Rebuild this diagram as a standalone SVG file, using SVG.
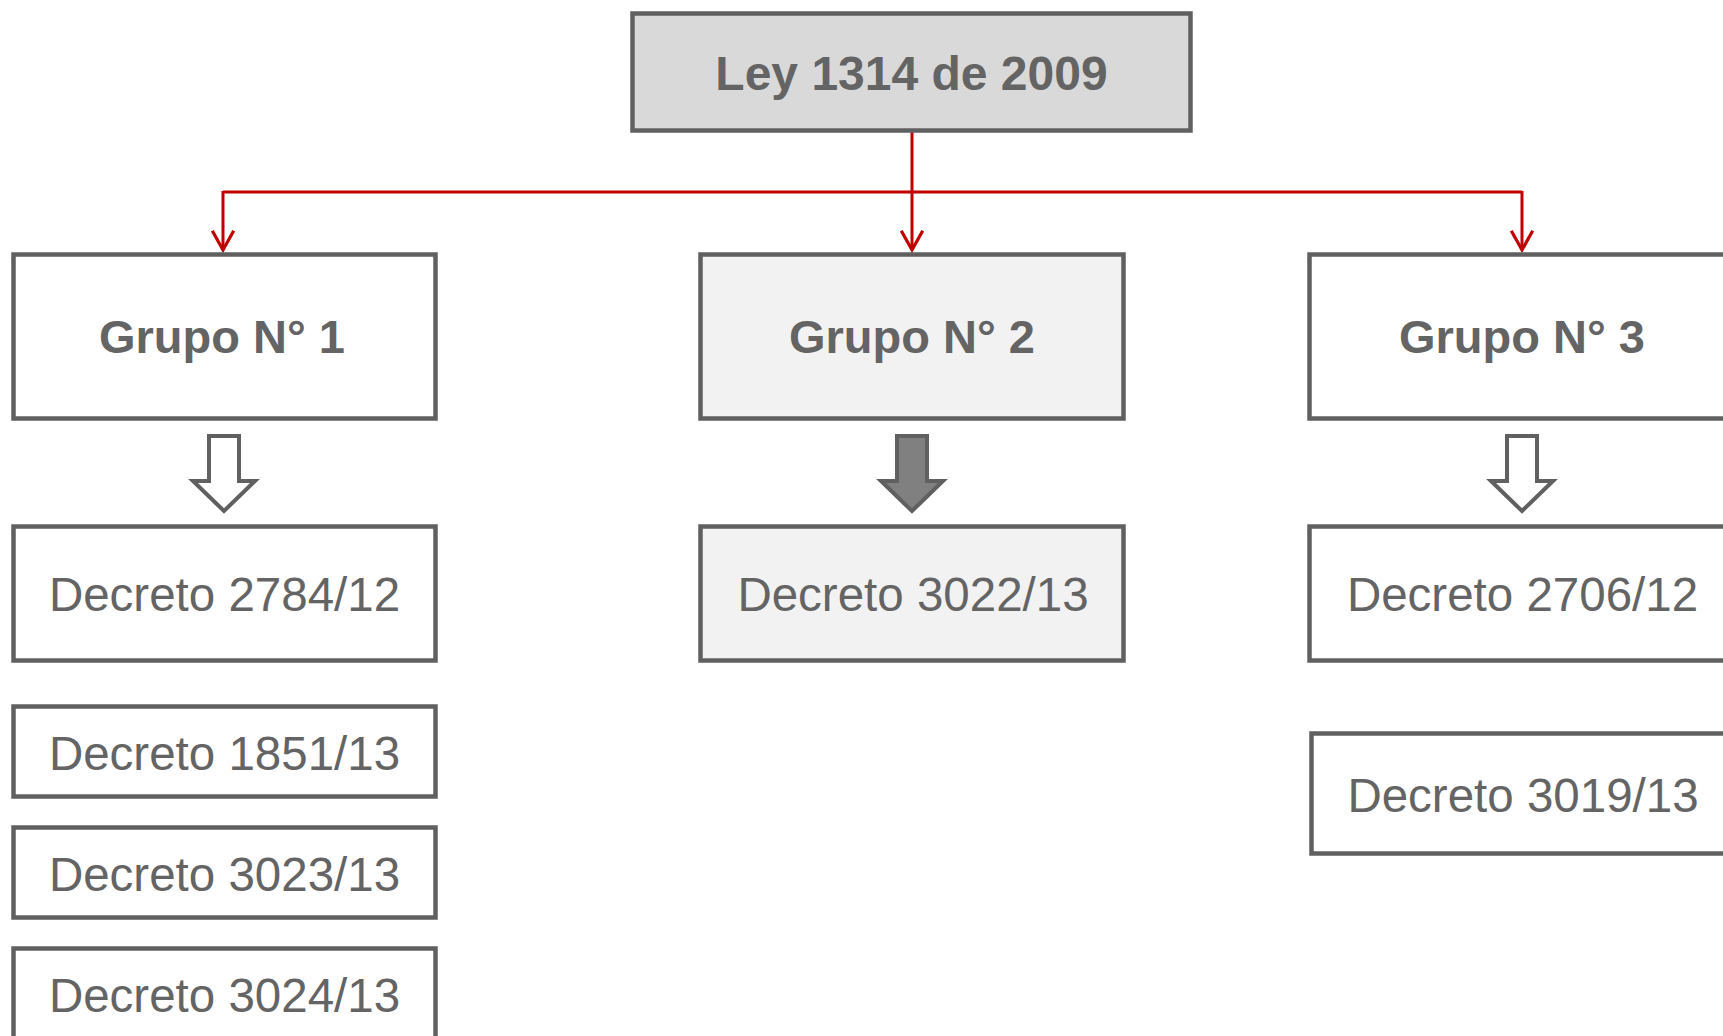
<svg xmlns="http://www.w3.org/2000/svg" width="1723" height="1036" viewBox="0 0 1723 1036">
  <style>
    .box { stroke: #606060; stroke-width: 4.5; fill: #ffffff; }
    .gray { fill: #d9d9d9; }
    .light { fill: #f2f2f2; }
    .t { font-family: "Liberation Sans", Arial, sans-serif; fill: #646464; text-anchor: middle; }
    .b { font-weight: bold; }
    .conn { stroke: #c00000; stroke-width: 3; fill: none; }
    .blk { stroke: #606060; stroke-width: 4; stroke-linejoin: miter; }
  </style>
  <defs>
    <marker id="vhead" markerUnits="userSpaceOnUse" orient="auto" refX="0" refY="0" markerWidth="30" markerHeight="30" viewBox="-22 -14 26 28" overflow="visible">
      <path d="M-18,-10 L0,0 L-18,10" fill="none" stroke="#c00000" stroke-width="3"/>
    </marker>
  </defs>
  <rect width="1723" height="1036" fill="#ffffff"/>

  <g id="connectors">
    <line class="conn" x1="912" y1="132" x2="912" y2="250" marker-end="url(#vhead)"/>
    <line class="conn" x1="223" y1="192" x2="1522" y2="192"/>
    <polyline class="conn" points="223,191 223,250" marker-end="url(#vhead)"/>
    <polyline class="conn" points="1522,191 1522,250" marker-end="url(#vhead)"/>
    <path id="arrow1" class="blk" fill="#ffffff" d="M209,436 H239 V481 H255 L224,511 L193,481 H209 Z"/>
    <path id="arrow2" class="blk" fill="#808080" d="M897,436 H927 V481 H943 L912,511 L881,481 H897 Z"/>
    <path id="arrow3" class="blk" fill="#ffffff" d="M1507,436 H1537 V481 H1553 L1522,511 L1491,481 H1507 Z"/>
  </g>

  <g id="ley">
    <rect class="box gray" x="632.5" y="13.5" width="558" height="117"/>
    <text class="t b" x="911.5" y="90" font-size="48">Ley 1314 de 2009</text>
  </g>

  <g id="grupo1">
    <rect class="box" x="13.5" y="254.5" width="422" height="164"/>
    <text class="t b" x="222" y="353" font-size="47">Grupo N° 1</text>
  </g>
  <g id="grupo2">
    <rect class="box light" x="700.5" y="254.5" width="423" height="164"/>
    <text class="t b" x="912" y="353" font-size="47">Grupo N° 2</text>
  </g>
  <g id="grupo3">
    <rect class="box" x="1309.5" y="254.5" width="423" height="164"/>
    <text class="t b" x="1522" y="353" font-size="47">Grupo N° 3</text>
  </g>

  <g id="d2784">
    <rect class="box" x="13.5" y="526.5" width="422" height="134"/>
    <text class="t" x="224.5" y="611" font-size="47.5">Decreto 2784/12</text>
  </g>
  <g id="d3022">
    <rect class="box light" x="700.5" y="526.5" width="423" height="134"/>
    <text class="t" x="913" y="611" font-size="47.5">Decreto 3022/13</text>
  </g>
  <g id="d2706">
    <rect class="box" x="1309.5" y="526.5" width="423" height="134"/>
    <text class="t" x="1522.5" y="611" font-size="47.5">Decreto 2706/12</text>
  </g>

  <g id="d1851">
    <rect class="box" x="13.5" y="706.5" width="422" height="90"/>
    <text class="t" x="224.5" y="770" font-size="47.5">Decreto 1851/13</text>
  </g>
  <g id="d3023">
    <rect class="box" x="13.5" y="827.5" width="422" height="90"/>
    <text class="t" x="224.5" y="891" font-size="47.5">Decreto 3023/13</text>
  </g>
  <g id="d3024">
    <rect class="box" x="13.5" y="948.5" width="422" height="110"/>
    <text class="t" x="224.5" y="1012" font-size="47.5">Decreto 3024/13</text>
  </g>

  <g id="d3019">
    <rect class="box" x="1311.5" y="733.5" width="423" height="120"/>
    <text class="t" x="1523" y="812" font-size="47.5">Decreto 3019/13</text>
  </g>
</svg>
